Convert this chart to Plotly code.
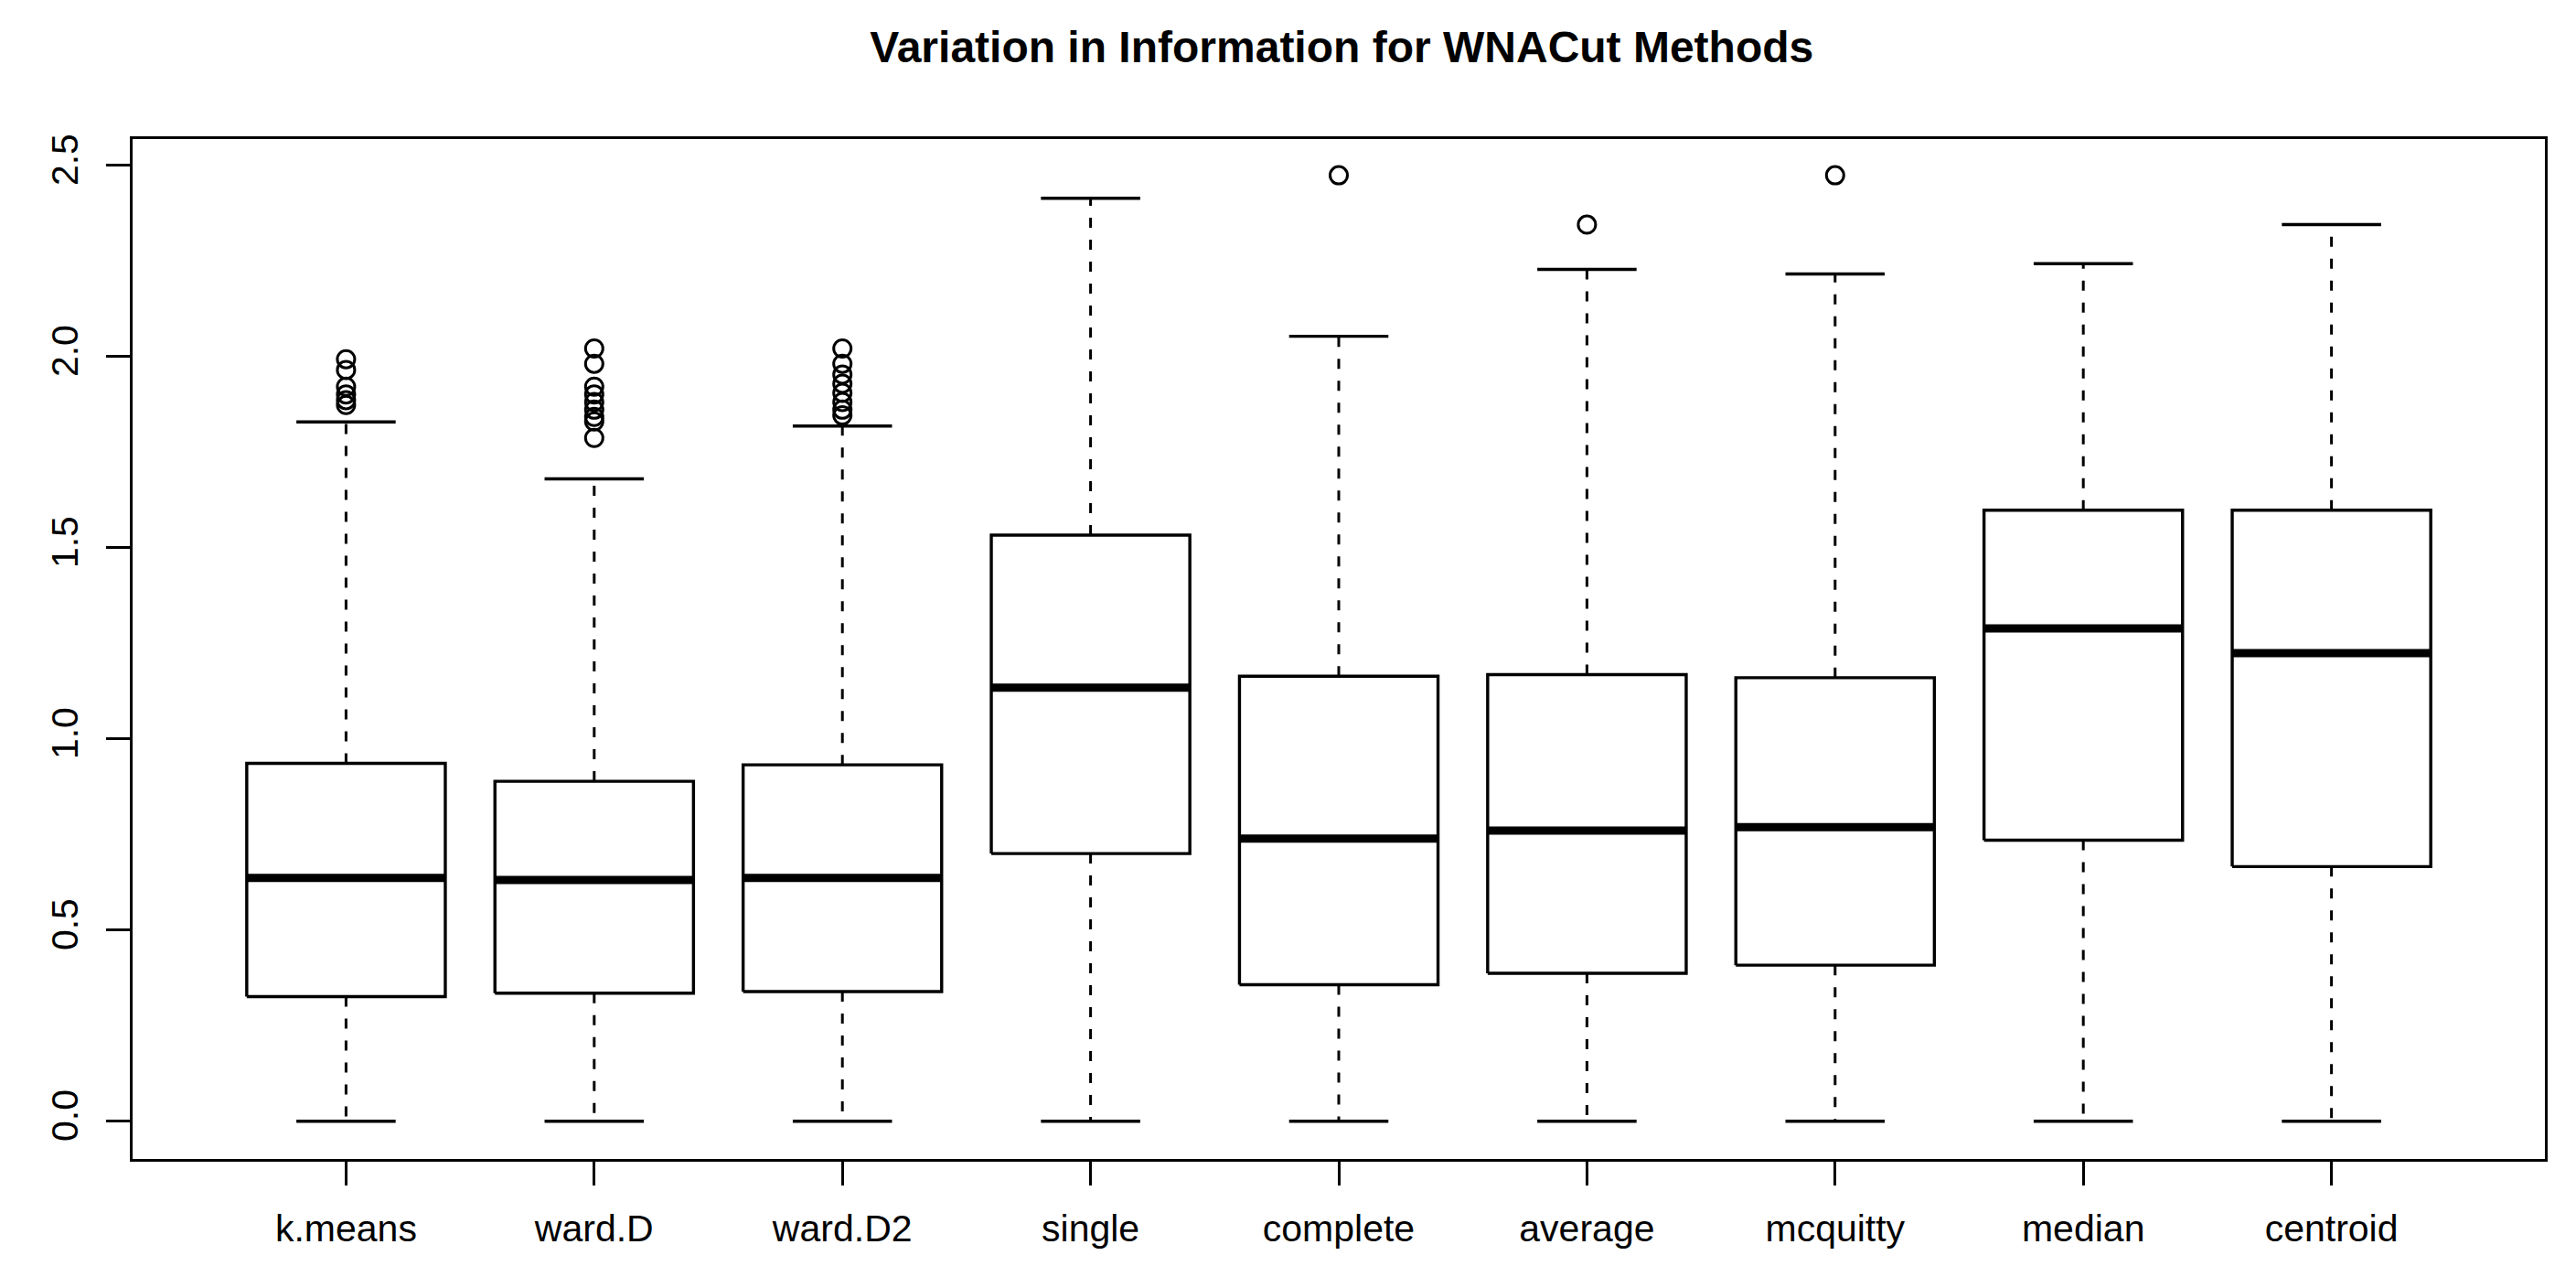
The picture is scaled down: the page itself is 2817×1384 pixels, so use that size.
import plotly.graph_objects as go

categories = ["k.means", "ward.D", "ward.D2", "single", "complete",
              "average", "mcquitty", "median", "centroid"]
lower_whisker = [0.0, 0.0, 0.0, 0.0, 0.0, 0.0, 0.0, 0.0, 0.0]
q1 = [0.326, 0.335, 0.339, 0.700, 0.357, 0.387, 0.408, 0.735, 0.666]
medians = [0.636, 0.631, 0.636, 1.134, 0.739, 0.760, 0.769, 1.289, 1.224]
q3 = [0.936, 0.889, 0.932, 1.533, 1.164, 1.168, 1.160, 1.598, 1.598]
upper_whisker = [1.829, 1.680, 1.818, 2.414, 2.053, 2.228, 2.216, 2.243, 2.345]
outliers = [
    [1.873, 1.886, 1.901, 1.921, 1.965, 1.993],
    [1.787, 1.830, 1.842, 1.861, 1.881, 1.901, 1.921, 1.981, 2.021],
    [1.846, 1.861, 1.881, 1.905, 1.929, 1.953, 1.981, 2.021],
    [],
    [2.474],
    [2.345],
    [2.474],
    [],
    [],
]
y_ticks = [0.0, 0.5, 1.0, 1.5, 2.0, 2.5]
title = "Variation in Information for WNACut Methods"

FONT = "Liberation Sans, Arial, Helvetica, sans-serif"
BOXW = 0.4   # half box width
CAPW = 0.2   # half staple width
LW = 3.4

fig = go.Figure()

# whiskers (dashed)
wx, wy = [], []
for i in range(len(categories)):
    x = i + 1
    wx += [x, x, None, x, x, None]
    wy += [q3[i], upper_whisker[i], None, q1[i], lower_whisker[i], None]
fig.add_trace(go.Scatter(x=wx, y=wy, mode="lines",
                         line=dict(color="black", width=3, dash="11px,13px"),
                         hoverinfo="skip", showlegend=False))

# caps
cx, cy = [], []
for i in range(len(categories)):
    x = i + 1
    for v in (upper_whisker[i], lower_whisker[i]):
        cx += [x - CAPW, x + CAPW, None]
        cy += [v, v, None]
fig.add_trace(go.Scatter(x=cx, y=cy, mode="lines",
                         line=dict(color="black", width=LW),
                         hoverinfo="skip", showlegend=False))

# boxes
for i in range(len(categories)):
    x = i + 1
    fig.add_trace(go.Scatter(
        x=[x - BOXW, x + BOXW, x + BOXW, x - BOXW, x - BOXW],
        y=[q1[i], q1[i], q3[i], q3[i], q1[i]],
        mode="lines", fill="toself", fillcolor="white",
        line=dict(color="black", width=LW),
        hoverinfo="skip", showlegend=False))

# medians
mx, my = [], []
for i in range(len(categories)):
    x = i + 1
    mx += [x - BOXW, x + BOXW, None]
    my += [medians[i], medians[i], None]
fig.add_trace(go.Scatter(x=mx, y=my, mode="lines",
                         line=dict(color="black", width=9),
                         hoverinfo="skip", showlegend=False))

# outliers
ox, oy = [], []
for i, pts in enumerate(outliers):
    for v in pts:
        ox.append(i + 1)
        oy.append(v)
fig.add_trace(go.Scatter(x=ox, y=oy, mode="markers",
                         marker=dict(symbol="circle-open", size=19,
                                     color="black", line=dict(width=3)),
                         hoverinfo="skip", showlegend=False))

# the page body adds an 8px offset, so the figure is 8px smaller
fig.update_layout(
    width=2809, height=1376,
    paper_bgcolor="white", plot_bgcolor="white",
    margin=dict(l=137, r=34, t=144, b=117),
    font=dict(family=FONT, size=41, color="black"),
    title=dict(text="<b>" + title + "</b>", x=0.5195, xanchor="center",
               y=1 - 43 / 1376, yanchor="middle", yref="container",
               font=dict(size=48, family=FONT, color="black")),
    showlegend=False,
)
fig.update_xaxes(
    range=[0.14, 9.86], tickmode="array",
    tickvals=list(range(1, len(categories) + 1)), ticktext=categories,
    ticks="outside", ticklen=26, tickwidth=LW, tickcolor="black",
    showline=True, linecolor="black", linewidth=LW, mirror=True,
    showgrid=False, zeroline=False, ticklabelstandoff=12,
)
fig.update_yaxes(
    range=[-0.0988, 2.5688], tickmode="array", tickvals=y_ticks,
    ticktext=[f"{v:.1f}" for v in y_ticks], tickangle=-90,
    ticks="outside", ticklen=26, tickwidth=LW, tickcolor="black",
    showline=True, linecolor="black", linewidth=LW, mirror=True,
    showgrid=False, zeroline=False, ticklabelstandoff=14,
)

fig.write_html("out.html")
